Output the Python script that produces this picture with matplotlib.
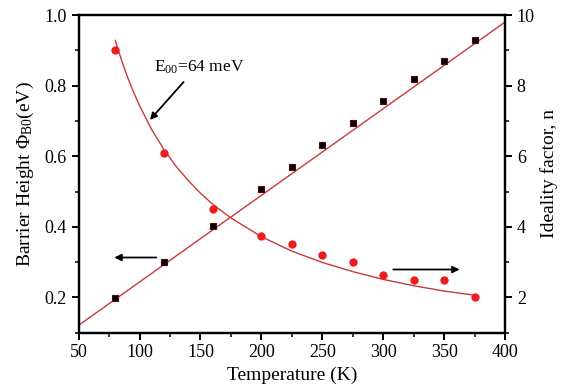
import matplotlib
matplotlib.use("Agg")
import matplotlib.pyplot as plt
from matplotlib.ticker import MultipleLocator

plt.rcParams['font.family'] = ['Liberation Serif', 'DejaVu Serif']
plt.rcParams['mathtext.fontset'] = 'custom'
plt.rcParams['mathtext.rm'] = 'Liberation Serif'
plt.rcParams['mathtext.it'] = 'Liberation Serif'

# barrier height (left axis)
temp = [80, 120, 160, 200, 225, 250, 275, 300, 325, 350, 375]
phi_b0 = [0.198, 0.301, 0.402, 0.506, 0.570, 0.633, 0.694, 0.757, 0.819, 0.870, 0.928]
fit_t = [50, 400]
fit_phi = [0.121, 0.980]

# ideality factor (right axis)
n_meas = [9.0, 6.08, 4.50, 3.74, 3.51, 3.20, 3.01, 2.63, 2.48, 2.48, 2.01]
curve_t = [80, 85, 90, 95, 100, 110, 120, 130, 140, 150, 160, 175,
           200, 225, 250, 275, 300, 325, 350, 375]
curve_n = [9.28, 8.74, 8.25, 7.82, 7.43, 6.75, 6.19, 5.71, 5.31, 4.95, 4.64, 4.25,
           3.72, 3.31, 2.99, 2.73, 2.51, 2.33, 2.18, 2.06]

fig = plt.figure(figsize=(5.64, 3.92), dpi=100)
ax = fig.add_axes([0.1395, 0.1513, 0.7559, 0.8104])
ax2 = ax.twinx()

line_col = '#c8383c'
ax.plot(fit_t, fit_phi, color=line_col, lw=1.0, zorder=2)
ax.plot(temp, phi_b0, 's', color='black', ms=4.5, mec='#4a0c0c', mew=0.8, zorder=3)

ax2.plot(curve_t, curve_n, color=line_col, lw=1.0, zorder=2)
ax2.plot(temp, n_meas, 'o', color='#ee1c1c', ms=6, mec='none', zorder=3)

ax.set_xlim(50, 400)
ax.set_ylim(0.1, 1.0)
ax2.set_ylim(1, 10)

ax.xaxis.set_major_locator(MultipleLocator(50))
ax.xaxis.set_minor_locator(MultipleLocator(25))
ax.yaxis.set_major_locator(MultipleLocator(0.2))
ax.yaxis.set_minor_locator(MultipleLocator(0.1))
ax2.yaxis.set_major_locator(MultipleLocator(2))
ax2.yaxis.set_minor_locator(MultipleLocator(1))

for a in (ax, ax2):
    for s in a.spines.values():
        s.set_linewidth(1.6)
    a.tick_params(which='major', direction='out', length=5, width=1.4, labelsize=13)
    a.tick_params(which='minor', direction='out', length=3, width=1.1)
ax.tick_params(top=False, right=False)
ax.set_yticks([0.2, 0.4, 0.6, 0.8, 1.0])
ax.set_yticklabels(['0.2', '0.4', '0.6', '0.8', '1.0'])

ax.set_xlabel('Temperature (K)', fontsize=14, labelpad=4)
ax.set_ylabel(r'Barrier Height $\Phi_{\mathrm{B0}}$(eV)', fontsize=14, labelpad=6)
ax2.set_ylabel('Ideality factor, n', fontsize=14, labelpad=4)

ax.text(149, 0.852, r'E$_{00}$=64 meV', fontsize=12.5, ha='center', va='center')
ax.annotate('', xy=(107, 0.697), xytext=(137.6, 0.816),
            arrowprops=dict(arrowstyle='-|>', color='black', lw=1.3, mutation_scale=10))
ax.annotate('', xy=(77, 0.313), xytext=(116, 0.313),
            arrowprops=dict(arrowstyle='-|>', color='black', lw=1.3, mutation_scale=10))
ax.annotate('', xy=(365, 0.279), xytext=(306, 0.279),
            arrowprops=dict(arrowstyle='-|>', color='black', lw=1.3, mutation_scale=10))

fig.savefig('out.png', dpi=100)
